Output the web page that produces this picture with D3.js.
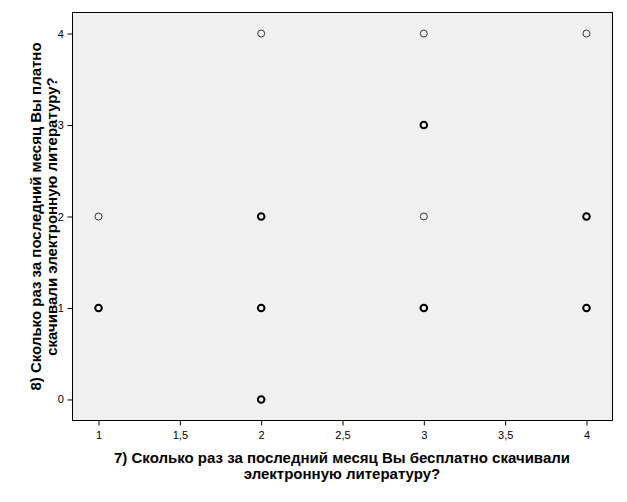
<!DOCTYPE html>
<html><head><meta charset="utf-8">
<script src="https://cdn.jsdelivr.net/npm/d3@7"></script>
<style>body{margin:0;background:#fff}svg{display:block}</style>
</head><body>
<script>
const xValues = [1, 1, 2, 2, 2, 2, 3, 3, 3, 3, 4, 4, 4];
const yValues = [1, 2, 0, 1, 2, 4, 1, 2, 3, 4, 1, 2, 4];
const counts  = [3, 1, 3, 3, 3, 1, 3, 1, 3, 1, 3, 3, 1];
const xTicks = [1, 1.5, 2, 2.5, 3, 3.5, 4];
const yTicks = [0, 1, 2, 3, 4];
const xTitle = ["7) Сколько раз за последний месяц Вы бесплатно скачивали", "электронную литературу?"];
const yTitle = ["8) Сколько раз за последний месяц Вы платно", "скачивали электронную литературу?"];

const W = 627, H = 502;
const m = {left: 72.5, right: 612.5, top: 12.5, bottom: 420.5};
const svg = d3.select("body").append("svg").attr("width", W).attr("height", H);
const x = d3.scaleLinear().domain([0.84, 4.16]).range([m.left, m.right]);
const y = d3.scaleLinear().domain([-0.23, 4.23]).range([m.bottom, m.top]);

svg.append("rect").attr("x", m.left).attr("y", m.top).attr("width", m.right - m.left).attr("height", m.bottom - m.top)
  .attr("fill", "#f0f0f0").attr("stroke", "#000").attr("stroke-width", 1);

const fmt = d => String(d).replace(".", ",");
const xa = svg.append("g").attr("transform", `translate(0,${m.bottom})`)
  .call(d3.axisBottom(x).tickValues(xTicks).tickFormat(fmt).tickSize(5).tickSizeOuter(0));
const ya = svg.append("g").attr("transform", `translate(${m.left},0)`)
  .call(d3.axisLeft(y).tickValues(yTicks).tickFormat(fmt).tickSize(5).tickSizeOuter(0));
[xa, ya].forEach(a => {
  a.select(".domain").remove();
  a.selectAll("text").attr("font-family", "Liberation Sans, Arial, sans-serif").attr("font-size", 11).attr("fill", "#000");
  a.selectAll("line").attr("stroke", "#000");
});
xa.selectAll("text").attr("dy", "0.95em");
ya.selectAll("text").attr("dx", "-0.05em");

const pts = xValues.map((v, i) => ({x: v, y: yValues[i], n: counts[i]}));
svg.append("g").selectAll("circle").data(pts).join("circle")
  .attr("cx", d => x(d.x)).attr("cy", d => y(d.y)).attr("r", d => d.n > 1 ? 3.3 : 3.5)
  .attr("fill", "none").attr("stroke", d => d.n > 1 ? "#000" : "#333")
  .attr("stroke-width", d => d.n > 1 ? 2 : 1);

const tf = "Liberation Sans, Arial, sans-serif";
svg.append("text").attr("x", 342).attr("y", 463).attr("text-anchor", "middle")
  .attr("font-family", tf).attr("font-weight", "bold").attr("font-size", 15).attr("fill", "#000")
  .selectAll("tspan").data(xTitle).join("tspan").attr("x", 342).attr("dy", (d, i) => i ? 15.5 : 0).text(d => d);
svg.append("g").attr("transform", `translate(41,${(m.top + m.bottom) / 2}) rotate(-90)`)
  .append("text").attr("text-anchor", "middle")
  .attr("font-family", tf).attr("font-weight", "bold").attr("font-size", 15).attr("fill", "#000")
  .selectAll("tspan").data(yTitle).join("tspan").attr("x", 0).attr("dy", (d, i) => i ? 15.5 : 0).text(d => d);
</script>
</body></html>
